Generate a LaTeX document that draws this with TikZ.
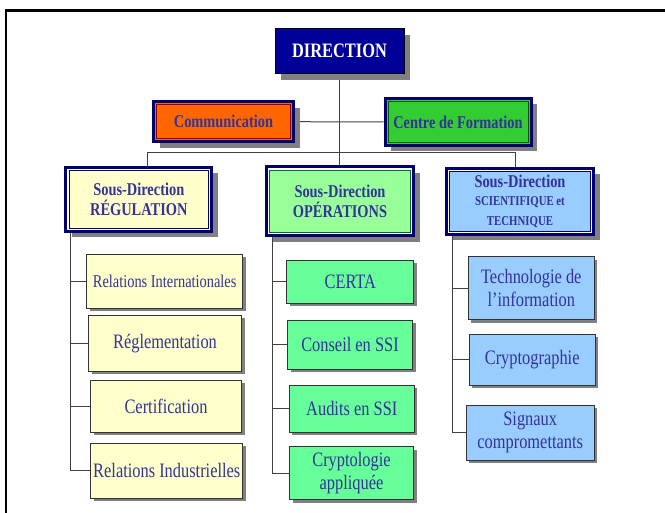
\documentclass[tikz,border=0pt]{standalone}
\usepackage{fontspec}
\setmainfont{Liberation Serif}[FakeStretch=0.8]
\usetikzlibrary{shadows, backgrounds}

\definecolor{dirblue}{RGB}{0,0,153}
\definecolor{navy}{RGB}{0,0,110}
\definecolor{textblue}{RGB}{51,51,153}
\definecolor{comfill}{RGB}{255,102,0}
\definecolor{cdffill}{RGB}{51,204,51}
\definecolor{regfill}{RGB}{255,255,204}
\definecolor{opsfill}{RGB}{153,255,153}
\definecolor{scifill}{RGB}{153,204,255}
\definecolor{opsunit}{RGB}{102,255,153}
\definecolor{shadowgray}{RGB}{128,128,128}

\tikzset{
  inner line/.style 2 args={path picture={
      \draw[#1, line width=1.2pt]
        ([shift={(2.2pt,2.2pt)}]path picture bounding box.south west) rectangle
        ([shift={(-2.2pt,-2.2pt)}]path picture bounding box.north east);
      \draw[#2, line width=0.7pt]
        ([shift={(3.1pt,3.1pt)}]path picture bounding box.south west) rectangle
        ([shift={(-3.1pt,-3.1pt)}]path picture bounding box.north east);}},
  head/.style={draw=navy, line width=3pt, fill=#1, text=textblue, align=center,
    inner sep=0pt, font=\bfseries\fontsize{18}{20}\selectfont,
    drop shadow={shadow xshift=6pt, shadow yshift=-6pt, fill=shadowgray, opacity=1}},
  unit/.style={draw=black!80, line width=0.8pt, fill=#1, text=textblue, align=center,
    inner sep=0pt, font=\fontsize{20.5}{23}\selectfont,
    drop shadow={shadow xshift=3pt, shadow yshift=-3pt, fill=shadowgray, opacity=1}},
  link/.style={draw=black!75, line width=1pt},
}

\begin{document}
\begin{tikzpicture}[x=1pt, y=-1pt]
  \useasboundingbox (0,0) rectangle (665,513);

  % frame
  \draw[line width=2.5pt] (6,514) -- (6,10.5) -- (666,10.5);

  % direction
  \node[draw=black, line width=0.8pt, fill=dirblue, text=white, inner sep=0pt,
    font=\bfseries\fontsize{20.5}{22}\selectfont,
    minimum width=129pt, minimum height=45pt,
    drop shadow={shadow xshift=6pt, shadow yshift=-6pt, fill=shadowgray, opacity=1}]
    (dir) at (339.5,51.3) {DIRECTION};

  \node[head=comfill, inner line={comfill}{red!50!black}, minimum width=140pt, minimum height=40pt]
    (com) at (223.5,121.7) {Communication};
  \node[head=cdffill, inner line={cdffill}{green!35!black}, minimum width=146pt, minimum height=47pt]
    (cdf) at (458,122) {Centre de Formation};

  % sous-directions
  \node[head=regfill, inner line={white}{navy}, minimum width=146pt, minimum height=64pt]
    (reg) at (138.8,199.5) {Sous-Direction\\RÉGULATION};
  \node[head=opsfill, inner line={white}{navy!60!green}, minimum width=147pt, minimum height=69pt]
    (ops) at (340,201.3) {Sous-Direction\\OPÉRATIONS};
  \node[head=scifill, inner line={white}{navy}, minimum width=147pt, minimum height=66pt]
    (sci) at (520,201.2) {Sous-Direction\\[-2pt]\fontsize{13.5}{15.5}\selectfont SCIENTIFIQUE et\\\fontsize{13.5}{15.5}\selectfont TECHNIQUE};

  % regulation
  \node[unit=regfill, minimum width=156pt, minimum height=54pt] (ri) at (164.7,281.5)
    {\fontsize{18}{20}\selectfont Relations Internationales};
  \node[unit=regfill, minimum width=153pt, minimum height=56pt] (rg) at (165,343.5) {Réglementation};
  \node[unit=regfill, minimum width=151pt, minimum height=52pt] (ce) at (166,406.5) {Certification};
  \node[unit=regfill, minimum width=152pt, minimum height=55pt] (rin) at (166.8,470.8) {Relations Industrielles};

  % operations
  \node[unit=opsunit, minimum width=127pt, minimum height=43pt] (certa) at (350.3,281.7) {CERTA};
  \node[unit=opsunit, minimum width=125pt, minimum height=49pt] (cons) at (350,344.7) {Conseil en SSI};
  \node[unit=opsunit, minimum width=125pt, minimum height=47pt] (aud) at (351.8,408.8) {Audits en SSI};
  \node[unit=opsunit, minimum width=124pt, minimum height=53pt] (cryl) at (351.5,473.3) {Cryptologie\\appliquée};

  % scientifique et technique
  \node[unit=scifill, minimum width=126pt, minimum height=63pt] (tech) at (531.3,288.3) {Technologie de\\l’information};
  \node[unit=scifill, minimum width=126pt, minimum height=51pt] (cryg) at (532.2,360) {Cryptographie};
  \node[unit=scifill, minimum width=128pt, minimum height=55pt] (sig) at (530.2,432.7) {Signaux\\compromettants};

  \coordinate (busL) at (147.2,152.7);
  \coordinate (busR) at (515.3,152.7);
  \coordinate (regS) at (70.7,231.7);
  \coordinate (opsS) at (272.3,236);
  \coordinate (sciS) at (452.3,234);

  \begin{scope}[on background layer]
    \draw[link] (dir.south) -- (dir.south |- ops.north);
    \draw[link] (com.east) -- (cdf.west);
    \draw[link] (busL |- reg.north) -- (busL) -- (busR) -- (busR |- sci.north);
    \draw[link] (regS) |- (rin.west);
    \foreach \n in {ri, rg, ce}
      \draw[link] (regS |- \n.west) -- (\n.west);
    \draw[link] (opsS) |- (cryl.west);
    \foreach \n in {certa, cons, aud}
      \draw[link] (opsS |- \n.west) -- (\n.west);
    \draw[link] (sciS) |- (sig.west);
    \foreach \n in {tech, cryg}
      \draw[link] (sciS |- \n.west) -- (\n.west);
  \end{scope}
\end{tikzpicture}
\end{document}
